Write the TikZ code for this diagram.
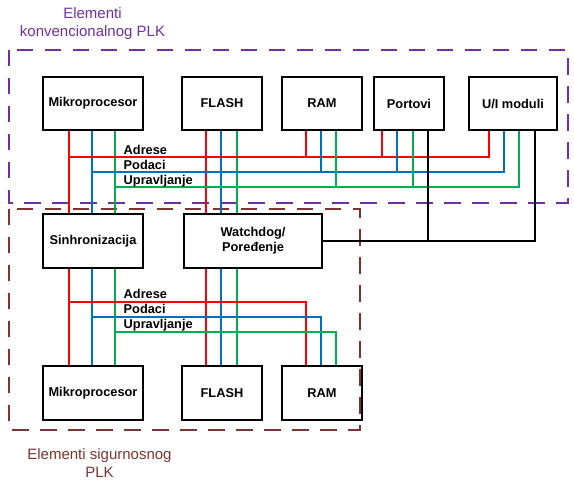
\documentclass[tikz,border=0pt]{standalone}
\usepackage{fontspec}
\setmainfont{Liberation Sans}
\definecolor{purp}{RGB}{112,48,160}
\definecolor{brn}{RGB}{125,52,48}
\definecolor{rl}{RGB}{255,0,0}
\definecolor{bl}{RGB}{0,112,192}
\definecolor{gl}{RGB}{0,176,80}
\tikzset{
  blk/.style={draw=black, line width=2pt, inner sep=0pt, font=\fontsize{12.8}{15}\selectfont\bfseries, align=center},
  redl/.style={draw=rl, line width=2pt},
  bluel/.style={draw=bl, line width=2pt},
  greenl/.style={draw=gl, line width=2pt},
  blackl/.style={draw=black, line width=2pt},
  buslabel/.style={anchor=base west, inner sep=0pt, font=\fontsize{12.8}{15}\selectfont\bfseries},
  grouplabel/.style={align=center, inner sep=0pt, font=\fontsize{15}{18}\selectfont},
  dashframe/.style={line width=2.6pt, dash pattern=on 16.5pt off 11.5pt}
}
\begin{document}
\begin{tikzpicture}[x=1pt,y=-1pt]
\useasboundingbox (0,0) rectangle (574,481);
% group frames
\draw[dashframe, draw=purp] (9,50) rectangle (568,203);
\draw[dashframe, draw=brn] (9,209) rectangle (360,430);
\node[grouplabel, text=purp] (lbltop) at (92.5,24) {Elementi\\konvencionalnog PLK};
\node[grouplabel, text=brn] (lblbot) at (99.5,463.5) {Elementi sigurnosnog\\PLK};
% boxes
\node[blk, minimum width=100pt, minimum height=53pt] (mp1) at (93,103.5) {Mikroprocesor};
\node[blk, minimum width=80pt, minimum height=53pt] (fl1) at (222,103.5) {FLASH};
\node[blk, minimum width=80pt, minimum height=53pt] (ram1) at (322,103.5) {RAM};
\node[blk, minimum width=70pt, minimum height=53pt] (port) at (409,103.5) {Portovi};
\node[blk, minimum width=88pt, minimum height=53pt] (ui) at (513,103.5) {U/I moduli};
\node[blk, minimum width=100pt, minimum height=54pt] (sync) at (93,241) {Sinhronizacija};
\node[blk, minimum width=138pt, minimum height=54pt] (wd) at (253,241) {Watchdog/\\Poređenje};
\node[blk, minimum width=100pt, minimum height=54pt] (mp2) at (93,393) {Mikroprocesor};
\node[blk, minimum width=80pt, minimum height=54pt] (fl2) at (222,393) {FLASH};
\node[blk, minimum width=80pt, minimum height=54pt] (ram2) at (322,393) {RAM};
% bus coordinates
\coordinate (ta) at (70,157);
\coordinate (tp) at (93,172);
\coordinate (tu) at (116,187);
\coordinate (ba) at (70,302);
\coordinate (bp) at (93,317);
\coordinate (bu) at (116,332);
% processor to sync
\draw[redl] ([xshift=27pt]mp1.south west) -- ([xshift=27pt]sync.north west);
\draw[bluel] ([xshift=50pt]mp1.south west) -- ([xshift=50pt]sync.north west);
\draw[greenl] ([xshift=73pt]mp1.south west) -- ([xshift=73pt]sync.north west);
% flash through watchdog
\draw[redl] ([xshift=25pt]fl1.south west) -- ([xshift=25pt]fl1.south west |- wd.north);
\draw[bluel] ([xshift=40pt]fl1.south west) -- ([xshift=40pt]fl1.south west |- wd.north);
\draw[greenl] ([xshift=56pt]fl1.south west) -- ([xshift=56pt]fl1.south west |- wd.north);
\draw[redl] ([xshift=25pt]fl2.north west |- wd.south) -- ([xshift=25pt]fl2.north west);
\draw[bluel] ([xshift=40pt]fl2.north west |- wd.south) -- ([xshift=40pt]fl2.north west);
\draw[greenl] ([xshift=56pt]fl2.north west |- wd.south) -- ([xshift=56pt]fl2.north west);
% top buses
\draw[redl] ([xshift=21pt]ui.south west) |- (ta);
\draw[bluel] ([xshift=36pt]ui.south west) |- (tp);
\draw[greenl] ([xshift=51pt]ui.south west) |- (tu);
\draw[redl] ([xshift=25pt]ram1.south west) -- ([xshift=25pt]ram1.south west |- ta);
\draw[bluel] ([xshift=40pt]ram1.south west) -- ([xshift=40pt]ram1.south west |- tp);
\draw[greenl] ([xshift=55pt]ram1.south west) -- ([xshift=55pt]ram1.south west |- tu);
\draw[redl] ([xshift=9pt]port.south west) -- ([xshift=9pt]port.south west |- ta);
\draw[bluel] ([xshift=24pt]port.south west) -- ([xshift=24pt]port.south west |- tp);
\draw[greenl] ([xshift=40pt]port.south west) -- ([xshift=40pt]port.south west |- tu);
% black links to watchdog
\draw[blackl] ([xshift=67pt]ui.south west) |- (wd.east);
\draw[blackl] ([xshift=55pt]port.south west) -- ([xshift=55pt]port.south west |- wd.east);
% sync to processor
\draw[redl] ([xshift=27pt]sync.south west) -- ([xshift=27pt]mp2.north west);
\draw[bluel] ([xshift=50pt]sync.south west) -- ([xshift=50pt]mp2.north west);
\draw[greenl] ([xshift=73pt]sync.south west) -- ([xshift=73pt]mp2.north west);
% bottom buses
\draw[redl] (ba) -| ([xshift=25pt]ram2.north west);
\draw[bluel] (bp) -| ([xshift=40pt]ram2.north west);
\draw[greenl] (bu) -| ([xshift=55pt]ram2.north west);
% bus labels
\node[buslabel] (ta1) at (123.5,155) {Adrese};
\node[buslabel] (tp1) at (123.5,170) {Podaci};
\node[buslabel] (tu1) at (123.5,185) {Upravljanje};
\node[buslabel] (ba1) at (123.5,299) {Adrese};
\node[buslabel] (bp1) at (123.5,314) {Podaci};
\node[buslabel] (bu1) at (123.5,329) {Upravljanje};
\end{tikzpicture}
\end{document}
